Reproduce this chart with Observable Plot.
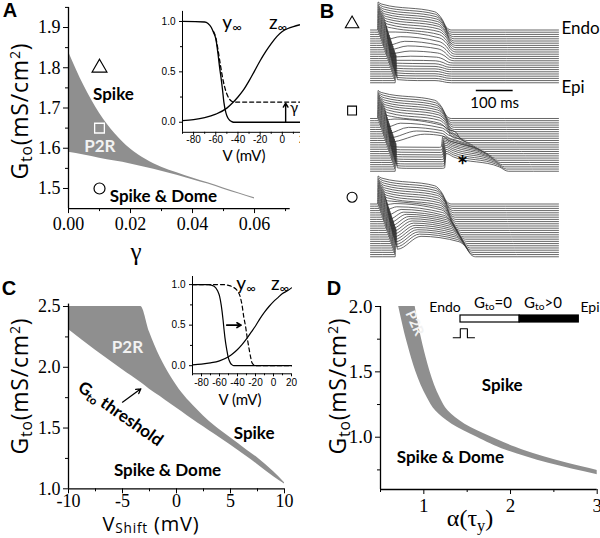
<!DOCTYPE html>
<html><head><meta charset="utf-8">
<script src="https://cdn.jsdelivr.net/npm/d3@7"></script>
<script src="https://cdn.jsdelivr.net/npm/@observablehq/plot@0.6"></script>
<style>
body{margin:0;background:#fff}
#root{position:relative;width:600px;height:538px;overflow:hidden;background:#fff}
.lbl{position:absolute;white-space:nowrap;line-height:1;color:#000}
.lbl sub{font-size:68%;vertical-align:-0.28em;line-height:0}
.lbl sup{font-size:62%;vertical-align:0.55em;line-height:0}
.lbl.tight sub{vertical-align:-0.18em}
</style></head><body><div id="root"></div>
<script>
// ---------------- Panel A data ----------------
const A_GAMMA = [0,0.005,0.01,0.015,0.02,0.025,0.03,0.035,0.04,0.045,0.05,0.055,0.06];
const A_LOWER = [1.59,1.583,1.575,1.568,1.561,1.552,1.543,1.533,1.522,1.511,1.498,1.486,1.474];
const A_UPPER = [1.84,1.755,1.687,1.636,1.598,1.572,1.553,1.539,1.526,1.514,1.501,1.489,1.477];
const A_MARKERS = [{g:0.01,G:1.80,sym:"triangle"},{g:0.01,G:1.65,sym:"square"},{g:0.01,G:1.50,sym:"circle"}];
const A_LABELS = [{g:0.0145,G:1.733,t:"Spike",c:"black"},{g:0.0306,G:1.48,t:"Spike & Dome",c:"black"},{g:0.0101,G:1.603,t:"P2R",c:"#f2f2f2"}];
// inset A (steady-state curves)
const IA_V_Y  = [-90,-70,-67,-64,-62,-60,-58,-56.6,-55,-54,-52.7,-51,-50,-48,-46,-44,20];
const IA_Y    = [1,0.995,0.98,0.94,0.89,0.83,0.68,0.55,0.42,0.33,0.2,0.1,0.065,0.025,0.008,0,0];
const IA_V_YD = [-62,-60,-58,-56,-54,-52,-50,-48,-46,-44,20];
const IA_YD   = [0.9,0.84,0.72,0.58,0.45,0.35,0.28,0.235,0.21,0.2,0.2];
const IA_V_Z  = [-90,-80,-70,-60,-50,-45,-40,-35,-30,-25,-20,-15,-10,-5,0,5,10,15,20];
const IA_Z    = [0.015,0.025,0.045,0.08,0.14,0.19,0.25,0.32,0.41,0.51,0.61,0.7,0.78,0.85,0.9,0.93,0.95,0.965,0.975];
const IA_GAMMA_ARROW = [{V:3,from:0.0,to:0.19}];

// ---------------- Panel B data (action potential traces) ----------------
const ACT = [19,21,23,25,27,29,31,33,35,37,39,41,43,45,47,49,51,53,55,57,59,61,63,65,67];
const TRI_NOTCH = [110,110,109,108,107,106,105,103,100,95,82,62,46,36,29,24,20,18,16,15,14,14,13,13,13];
const TRI_DOMET = [15,15,15,15,15,15,15,16,18,20,28,40,50,56,60,60,60,60,60,60,60,60,60,60,60];
const TRI_P0    = [105,104,103,102,101,100,99,97,94,90,82,72,62,52,40,28,20,16,14,12,11,10,10,9,9];
const TRI_P1    = [75,74,73,72,71,70,69,67,65,62,58,52,46,40,32,24,18,15,13,12,11,10,10,9,9];
const TRI_APD   = [185,185,185,185,185,184,184,183,182,180,178,175,172,168,165,160,156,152,150,148,146,144,142,140,138];
const SQ_NOTCH = [110,110,109,108,107,106,105,103,100,95,85,65,48,38,30,22,20,18,17,16,15,15,14,14,14];
const SQ_DOMET = [15,15,15,15,15,15,15,16,18,20,25,40,60,80,100,30,30,30,30,30,30,30,30,30,30];
const SQ_P0    = [105,104,103,102,101,100,99,97,94,90,88,80,72,66,62,18,16,15,14,14,13,13,12,12,12];
const SQ_P1    = [75,74,73,72,71,70,69,67,65,62,62,60,58,56,55,17,15,14,13,13,12,12,12,12,12];
const SQ_APD   = [185,185,185,185,185,184,184,183,182,180,null,null,null,null,null,null,null,null,null,null,null,null,null,null,null];
const SQ_RE_T  = [null,null,null,null,null,null,null,null,null,null,212,212,212,212,212,192,194,195,196,197,198,199,200,200,201];
const SQ_RE_V  = [null,null,null,null,null,null,null,null,null,null,45,42,40,38,36,62,64,66,68,70,71,72,72,73,73];
const SQ_END   = [null,null,null,null,null,null,null,null,null,null,262,270,280,290,300,310,320,330,338,345,352,358,364,369,374];
const CIR_NOTCH = [110,110,109,108,107,106,105,103,100,95,88,78,64,55,50,45,42,40,38,36,35,34,33,32,31];
const CIR_DOMET = [15,15,15,15,15,15,15,16,18,20,25,30,40,45,50,55,58,60,62,64,65,66,67,68,70];
const CIR_P0    = [105,104,103,102,101,100,99,97,95,93,92,88,86,84,84,84,84,84,84,84,84,84,84,84,84];
const CIR_P1    = [75,74,73,72,71,70,69,68,67,66,66,64,62,62,62,62,62,62,62,62,62,62,62,62,62];
const CIR_APD   = [185,185,185,185,185,184,184,184,184,184,184,185,186,188,189,190,192,193,194,196,197,198,200,201,203];
const STACK_OFFSET = [0,363.4,714.6];
const TRACE_STEP = 9.03;
const B_MARKERS = [{t:-50,v:25.5,sym:"triangle"},{t:-50,v:-330.6,sym:"square"},{t:-50,v:-686.7,sym:"circle"}];
const B_LABELS = [{t:518,v:6.2,txt:"Endo"},{t:518,v:-236,txt:"Epi"}];
const SCALE_BAR = [{t1:287,t2:387,v:-248.5,txt:"100 ms"}];

// ---------------- Panel C data ----------------
const C_V     = [-10,-7.5,-5,-3.3,-2.5,-1.5,-0.5,0.5,1.5,2.5,3.5,5,6.5,7.5,9,10];
const C_LOWER = [2.31,2.14,1.98,1.875,1.82,1.76,1.695,1.635,1.57,1.51,1.45,1.36,1.265,1.20,1.10,1.04];
const C_UPPER = [2.5,2.5,2.5,2.5,2.29,2.08,1.92,1.79,1.69,1.60,1.52,1.42,1.32,1.255,1.14,1.05];
const C_LABELS = [{v:-4.54,G:2.165,t:"P2R",c:"#f2f2f2"},{v:7.19,G:1.452,t:"Spike",c:"black"},{v:-0.83,G:1.15,t:"Spike & Dome",c:"black"}];
const C_ARROW = [{v1:-5.0,g1:1.713,v2:-3.3,g2:1.823}];
const IC_V_Y  = [-90,-72,-66,-62,-60,-58,-56,-55,-54,-52,-50,-48,-46,-44,20];
const IC_Y    = [1,1,0.98,0.92,0.86,0.74,0.56,0.45,0.35,0.2,0.09,0.035,0.01,0,0];
const IC_V_YD = [-90,-55,-50,-45,-40,-37,-35,-33,-31,-29,-27,-25.5,-24,-22,-20,20];
const IC_YD   = [1,1,0.99,0.97,0.92,0.85,0.75,0.6,0.48,0.33,0.2,0.11,0.04,0.01,0,0];
const IC_V_Z  = [-90,-80,-70,-60,-50,-45,-40,-35,-30,-25,-20,-15,-10,-5,0,5,10,15,20];
const IC_Z    = [0.01,0.02,0.035,0.06,0.11,0.15,0.2,0.26,0.33,0.41,0.49,0.58,0.66,0.73,0.79,0.84,0.89,0.92,0.96];
const IC_SHIFT_ARROW = [{v1:-52,v2:-36,y:0.5}];

// ---------------- Panel D data ----------------
const D_G     = [2.0,1.9,1.8,1.7,1.6,1.5,1.4,1.3,1.2,1.1,1.0,0.9,0.8,0.7];
const D_LEFT  = [0.71,0.743,0.778,0.818,0.86,0.908,0.967,1.041,1.138,1.325,1.615,1.95,2.44,3.09];
const D_RIGHT = [0.90,0.927,0.958,0.992,1.03,1.072,1.123,1.189,1.282,1.475,1.785,2.15,2.66,3.31];
const D_LABELS = [{a:1.904,G:1.396,t:"Spike"},{a:1.307,G:0.847,t:"Spike & Dome"}];
const CABLE = [{from:0,to:0.5,lo:0,hi:1,gto:"zero"},{from:0.5,to:1,lo:0,hi:1,gto:"positive"}];
const STIM_T = [0,1,1,2,2,3];
const STIM_I = [0,0,1,1,0,0];

// ---------------- helpers ----------------
const root = document.getElementById("root");
const GRAY = "#8f8f8f";
function put(svg, left, top){
  svg.style.position = "absolute"; svg.style.left = left+"px"; svg.style.top = top+"px";
  root.appendChild(svg);
}
function label(html, x, y, o = {}){
  const d = document.createElement("div");
  d.className = "lbl" + (o.tight ? " tight" : ""); d.innerHTML = html;
  d.style.fontFamily = o.family || "Lato";
  d.style.fontSize = (o.size || 17) + "px";
  d.style.fontWeight = o.weight || "normal";
  if (o.spacing) d.style.letterSpacing = o.spacing + "px";
  if (o.color) d.style.color = o.color;
  const ax = o.anchor === "start" ? "0%" : o.anchor === "end" ? "-100%" : "-50%";
  d.style.left = x + "px"; d.style.top = y + "px";
  d.style.transform = `translate(${ax},-50%) rotate(${o.rotate || 0}deg)`;
  root.appendChild(d);
}
const zip = (xs, ys, kx, ky) => xs.map((x, i) => ({[kx]: x, [ky]: ys[i]}));
const mainStyle = (fs) => ({background:"transparent", overflow:"visible", fontFamily:"Liberation Serif", fontSize: fs+"px", color:"#000"});
const insetStyle = {background:"transparent", overflow:"visible", fontFamily:"Liberation Sans", fontSize:"10px", color:"#000"};
const blank = () => "";

// ---------------- Panel A ----------------
const aRegion = A_GAMMA.map((g, i) => ({g, lo: A_LOWER[i], hi: A_UPPER[i]}));
put(Plot.plot({
  width:300, height:270, marginLeft:68, marginRight:10.3, marginTop:6.9, marginBottom:61.9,
  x:{domain:[0,0.0715]}, y:{domain:[1.45,1.95]},
  style: mainStyle(18),
  marks:[
    Plot.areaY(aRegion, {x:"g", y1:"lo", y2:"hi", fill:GRAY, curve:"monotone-x"}),
    Plot.ruleY([1.45], {strokeWidth:1.3}),
    Plot.ruleX([0], {strokeWidth:1.3}),
    Plot.axisX([0,0.02,0.04,0.06], {tickSize:5, tickPadding:4, tickFormat:d=>d.toFixed(2), fontSize:18, label:null}),
    Plot.axisX([0.01,0.03,0.05,0.07], {tickSize:3, tickFormat:blank, label:null}),
    Plot.axisY([1.5,1.6,1.7,1.8,1.9], {tickSize:5, tickPadding:3, tickFormat:d=>d.toFixed(1), fontSize:18, label:null}),
    Plot.axisY([1.55,1.65,1.75,1.85,1.95], {tickSize:3, tickFormat:blank, label:null}),
    Plot.dot(A_MARKERS.filter(d=>d.sym==="triangle"), {x:"g", y:"G", symbol:"triangle", r:5.5, stroke:"black", strokeWidth:1.2}),
    Plot.dot(A_MARKERS.filter(d=>d.sym==="square"), {x:"g", y:"G", symbol:"square", r:5.5, stroke:"white", strokeWidth:1.3}),
    Plot.dot(A_MARKERS.filter(d=>d.sym==="circle"), {x:"g", y:"G", symbol:"circle", r:5.5, stroke:"black", strokeWidth:1.2}),
    Plot.text(A_LABELS, {x:"g", y:"G", text:"t", fill:"c", fontFamily:"Lato", fontWeight:"bold", fontSize:17})
  ]
}), 0, 0);

// inset A
(function(){
  const svg = Plot.plot({
    width:150, height:165, marginLeft:32, marginRight:0, marginTop:10.9, marginBottom:33.2,
    x:{domain:[-90,20], range:[32,154]}, y:{domain:[-0.1,1.1]},
    style: insetStyle,
    marks:[
      Plot.ruleX([-90], {strokeWidth:1}),
      Plot.ruleY([-0.1], {strokeWidth:1}),
      Plot.axisX([-80,-60,-40,-20,0,20], {tickSize:3, tickPadding:1, tickFormat:d=>String(d), label:null}),
      Plot.axisX([-90,-70,-50,-30,-10,10], {tickSize:2, tickFormat:blank, label:null}),
      Plot.axisY([0,0.5,1.0], {tickSize:3, tickPadding:4, tickFormat:d=>d.toFixed(1), label:null}),
      Plot.axisY([0.25,0.75], {tickSize:2, tickFormat:blank, label:null}),
      Plot.line(zip(IA_V_Z, IA_Z, "V", "y"), {x:"V", y:"y", curve:"monotone-x", strokeWidth:1.3}),
      Plot.line(zip(IA_V_Y, IA_Y, "V", "y"), {x:"V", y:"y", curve:"monotone-x", strokeWidth:1.3}),
      Plot.line(zip(IA_V_YD, IA_YD, "V", "y"), {x:"V", y:"y", curve:"monotone-x", strokeWidth:1.3, strokeDasharray:"4,3"}),
      Plot.arrow(IA_GAMMA_ARROW, {x1:"V", x2:"V", y1:"from", y2:"to", headLength:5, strokeWidth:1.4})
    ]
  });
  svg.style.overflow = "hidden";
  put(svg, 150, 0);
})();

// ---------------- Panel B ----------------
function tracePoints(s, i){
  const a = ACT[i];
  const P = [[0,0],[a,0],[a+1.5,115]];
  const std = (n, dt, p0, p1, apd) => P.push([a+6,n],[a+dt,p0],[a+apd-30,p1],[a+apd-10,p1*0.6],[a+apd+2,p1*0.15],[a+apd+15,0]);
  if (s === 0) std(TRI_NOTCH[i], TRI_DOMET[i], TRI_P0[i], TRI_P1[i], TRI_APD[i]);
  else if (s === 2) std(CIR_NOTCH[i], CIR_DOMET[i], CIR_P0[i], CIR_P1[i], CIR_APD[i]);
  else if (SQ_RE_T[i] === null) std(SQ_NOTCH[i], SQ_DOMET[i], SQ_P0[i], SQ_P1[i], SQ_APD[i]);
  else {
    const rt = SQ_RE_T[i], q = SQ_RE_V[i], e = SQ_END[i];
    P.push([a+6, SQ_NOTCH[i]], [a+SQ_DOMET[i], SQ_P0[i]]);
    if (i < 15) {
      P.push([rt-17, SQ_P1[i]], [rt, q], [rt+20, q*0.75], [e-20, q*0.25], [e, 0]);
    } else {
      P.push([rt-5, SQ_P1[i]], [rt, SQ_P1[i]+2], [rt+4, q], [rt+25, q*0.8], [e-25, q*0.25], [e, 0]);
    }
  }
  P.push([510,0]);
  return P;
}
const traceRows = [];
for (let s = 0; s < 3; s++) for (let i = 0; i < 25; i++)
  for (const [t, v] of tracePoints(s, i)) traceRows.push({id: s*100+i, t, v: v - i*TRACE_STEP - STACK_OFFSET[s]});

put(Plot.plot({
  width:300, height:270, marginLeft:70, marginRight:42, marginTop:0, marginBottom:0,
  x:{domain:[0,510], axis:null}, y:{domain:[-987.7,121.2], axis:null},
  style:{background:"transparent", overflow:"visible"},
  marks:[
    Plot.line(traceRows, {x:"t", y:"v", z:"id", curve:"monotone-x", stroke:"#333", strokeWidth:0.75}),
    Plot.dot(B_MARKERS.filter(d=>d.sym==="triangle"), {x:"t", y:"v", symbol:"triangle", r:5, stroke:"black", strokeWidth:1.1}),
    Plot.dot(B_MARKERS.filter(d=>d.sym==="square"), {x:"t", y:"v", symbol:"square", r:5, stroke:"black", strokeWidth:1.1}),
    Plot.dot(B_MARKERS.filter(d=>d.sym==="circle"), {x:"t", y:"v", symbol:"circle", r:5, stroke:"black", strokeWidth:1.1}),
    Plot.ruleY(SCALE_BAR, {x1:"t1", x2:"t2", y:"v", strokeWidth:1.5}),
    Plot.text(SCALE_BAR, {x:d=>(d.t1+d.t2)/2, y:"v", text:"txt", dy:13, fontFamily:"Lato", fontSize:15}),
    Plot.text(B_LABELS, {x:"t", y:"v", text:"txt", textAnchor:"start", fontFamily:"Lato", fontSize:17}),
    Plot.text([{t:249.6, v:-560}], {x:"t", y:"v", text:()=>"*", fontFamily:"Lato", fontWeight:"bold", fontSize:26})
  ]
}), 300, 0);

// ---------------- Panel C ----------------
const cRegion = C_V.map((v, i) => ({v, lo: C_LOWER[i], hi: C_UPPER[i]}));
put(Plot.plot({
  width:300, height:268, marginLeft:68, marginRight:16, marginTop:33.6, marginBottom:49.7,
  x:{domain:[-10,10]}, y:{domain:[1,2.52]},
  style: mainStyle(18),
  marks:[
    Plot.areaY(cRegion, {x:"v", y1:"lo", y2:"hi", fill:GRAY, curve:"monotone-x"}),
    Plot.ruleY([1], {strokeWidth:1.3}),
    Plot.ruleX([-10], {strokeWidth:1.3}),
    Plot.axisX([-10,-5,0,5,10], {tickSize:5, tickPadding:0, tickFormat:d=>String(d), fontSize:18, label:null}),
    Plot.axisX([-7.5,-2.5,2.5,7.5], {tickSize:3, tickFormat:blank, label:null}),
    Plot.axisY([1.0,1.5,2.0,2.5], {tickSize:5, tickPadding:3, tickFormat:d=>d.toFixed(1), fontSize:18, label:null}),
    Plot.axisY([1.25,1.75,2.25], {tickSize:3, tickFormat:blank, label:null}),
    Plot.arrow(C_ARROW, {x1:"v1", y1:"g1", x2:"v2", y2:"g2", headLength:6, strokeWidth:1.3}),
    Plot.text(C_LABELS, {x:"v", y:"G", text:"t", fill:"c", fontFamily:"Lato", fontWeight:"bold", fontSize:17})
  ]
}), 0, 270);

// inset C
put(Plot.plot({
  width:135, height:140, marginLeft:32, marginRight:4, marginTop:6, marginBottom:36.7,
  x:{domain:[-90,20]}, y:{domain:[-0.1,1.1]},
  style: insetStyle,
  marks:[
    Plot.ruleX([-90], {strokeWidth:1}),
    Plot.ruleY([-0.1], {strokeWidth:1}),
    Plot.axisX([-80,-60,-40,-20,0,20], {tickSize:3, tickPadding:2, tickFormat:d=>String(d), label:null}),
    Plot.axisX([-90,-70,-50,-30,-10,10], {tickSize:2, tickFormat:blank, label:null}),
    Plot.axisY([0,0.5,1.0], {tickSize:3, tickPadding:4, tickFormat:d=>d.toFixed(1), label:null}),
    Plot.axisY([0.25,0.75], {tickSize:2, tickFormat:blank, label:null}),
    Plot.line(zip(IC_V_Z, IC_Z, "V", "y"), {x:"V", y:"y", curve:"monotone-x", strokeWidth:1.2}),
    Plot.line(zip(IC_V_Y, IC_Y, "V", "y"), {x:"V", y:"y", curve:"monotone-x", strokeWidth:1.2}),
    Plot.line(zip(IC_V_YD, IC_YD, "V", "y"), {x:"V", y:"y", curve:"monotone-x", strokeWidth:1.2, strokeDasharray:"4,3"}),
    Plot.arrow(IC_SHIFT_ARROW, {x1:"v1", x2:"v2", y1:"y", y2:"y", headLength:5, strokeWidth:1.6})
  ]
}), 160, 270);

// ---------------- Panel D ----------------
const dRegion = D_G.map((g, i) => ({g, lo: D_LEFT[i], hi: D_RIGHT[i]}));
put(Plot.plot({
  width:300, height:268, marginLeft:80, marginRight:3.3, marginTop:36, marginBottom:49,
  x:{domain:[0.5,3]}, y:{domain:[0.6,2.0]},
  style: mainStyle(19),
  marks:[
    Plot.areaX(dRegion, {y:"g", x1:"lo", x2:"hi", fill:GRAY, curve:"monotone-y", clip:true}),
    Plot.ruleY([0.6], {strokeWidth:1.3}),
    Plot.ruleX([0.5], {strokeWidth:1.3}),
    Plot.axisX([1,2,3], {tickSize:5, tickPadding:4, tickFormat:d=>String(d), fontSize:19, label:null}),
    Plot.axisX([0.5,1.5,2.5], {tickSize:3, tickFormat:blank, label:null}),
    Plot.axisY([1.0,1.5,2.0], {tickSize:5, tickPadding:3, tickFormat:d=>d.toFixed(1), fontSize:19, label:null}),
    Plot.axisY([0.75,1.25,1.75], {tickSize:3, tickFormat:blank, label:null}),
    Plot.text(D_LABELS, {x:"a", y:"G", text:"t", fontFamily:"Lato", fontWeight:"bold", fontSize:17})
  ]
}), 300, 270);

// cable schematic (Endo -> Epi)
put(Plot.plot({
  width:160, height:50, marginLeft:20, marginRight:21.7, marginTop:19, marginBottom:24,
  x:{domain:[0,1], axis:null}, y:{domain:[0,1], axis:null},
  style:{background:"transparent", overflow:"visible"},
  marks:[
    Plot.rect(CABLE.filter(d=>d.gto==="zero"), {x1:"from", x2:"to", y1:"lo", y2:"hi", fill:"white", stroke:"black", strokeWidth:1.2}),
    Plot.rect(CABLE.filter(d=>d.gto==="positive"), {x1:"from", x2:"to", y1:"lo", y2:"hi", fill:"black", stroke:"black", strokeWidth:1.2})
  ]
}), 440, 296);
// stimulus pulse
put(Plot.plot({
  width:35, height:20, marginLeft:7.7, marginRight:6, marginTop:6.3, marginBottom:4.7,
  x:{domain:[0,3], axis:null}, y:{domain:[0,1], axis:null},
  style:{background:"transparent", overflow:"visible"},
  marks:[Plot.line(zip(STIM_T, STIM_I, "t", "i"), {x:"t", y:"i", strokeWidth:1.1})]
}), 445, 322);

// ---------------- text labels (HTML, for sub/superscripts) ----------------
const AX = {family:"Open Sans", size:23, spacing:0.8};
label("A", 10, 10, {family:"Liberation Sans", weight:"bold", size:20});
label("B", 327, 11, {family:"Liberation Sans", weight:"bold", size:20});
label("C", 9, 288, {family:"Liberation Sans", weight:"bold", size:20});
label("D", 334, 288, {family:"Liberation Sans", weight:"bold", size:20});
// A
label("G<sub>to</sub>(mS/cm<sup>2</sup>)", 19, 111, {...AX, rotate:-90});
label("γ", 136, 251, {family:"Liberation Serif", size:25});
label("y<sub>∞</sub>", 232, 21, {size:19});
label("z<sub>∞</sub>", 278, 21, {size:19});
label("V (mV)", 244, 155, {size:15});
label("γ", 294, 107, {size:15});
// C
label("G<sub>to</sub>(mS/cm<sup>2</sup>)", 19, 386, {...AX, rotate:-90});
label("V<sub>Shift</sub> (mV)", 151, 524, {...AX, size:20, tight:true});
label("y<sub>∞</sub>", 246, 282, {size:19});
label("z<sub>∞</sub>", 280, 282, {size:19});
label("V (mV)", 240, 399, {size:15});
label("G<sub>to</sub> threshold", 121, 413, {size:17, weight:"bold", rotate:35});
// D
label("G<sub>to</sub>(mS/cm<sup>2</sup>)", 337, 386, {...AX, rotate:-90});
label("α(τ<sub>y</sub>)", 470, 518, {family:"Liberation Serif", size:24});
label("P2R", 415, 323, {size:14, weight:"bold", color:"#f2f2f2", rotate:66});
label("Endo", 445, 307, {size:14});
label("G<sub>to</sub>=0", 493, 302, {size:15});
label("G<sub>to</sub>&gt;0", 543, 302, {size:15});
label("Epi", 590, 307, {size:14});
</script></body></html>
